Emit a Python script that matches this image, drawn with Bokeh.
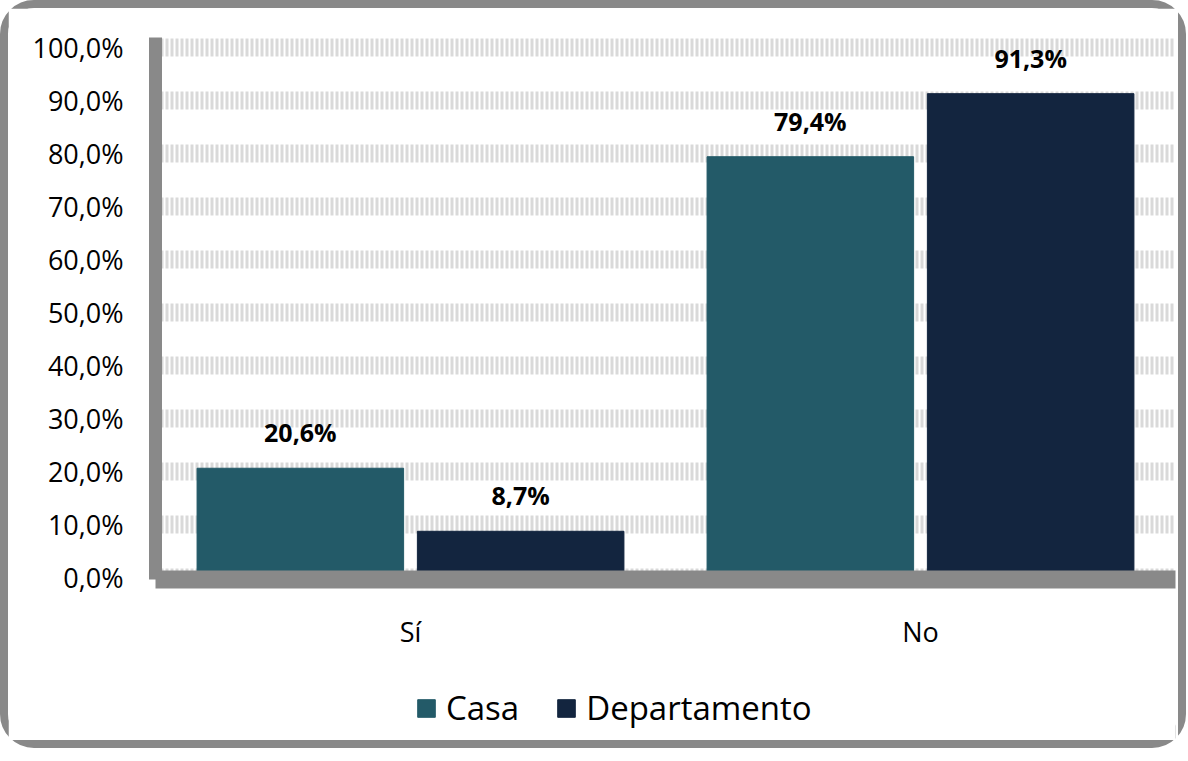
from bokeh.plotting import figure
from bokeh.layouts import column
from bokeh.models import ColumnDataSource, FactorRange, Range1d, Legend, LegendItem, FixedTicker, CustomJSTickFormatter
from bokeh.transform import dodge
from bokeh.core.properties import value
from bokeh.embed import file_html
from bokeh.resources import INLINE

categories = ["Sí", "No"]
casa = [20.6, 79.4]
departamento = [8.7, 91.3]
series_names = ["Casa", "Departamento"]
y_ticks = [0, 10, 20, 30, 40, 50, 60, 70, 80, 90, 100]

casa_labels = [f"{v:.1f}%".replace(".", ",") for v in casa]
depto_labels = [f"{v:.1f}%".replace(".", ",") for v in departamento]

src = ColumnDataSource(dict(cat=categories, casa=casa, depto=departamento,
                            casa_lbl=casa_labels, depto_lbl=depto_labels))

FONT = "Open Sans"
AXIS_COLOR = "#898989"
C_CASA = "#235A68"
C_DEPTO = "#13253F"

p = figure(x_range=FactorRange(*categories, range_padding=0), y_range=Range1d(-0.4, 101.9),
           width=1170, height=672, output_backend="svg", toolbar_location=None,
           min_border_left=147, min_border_right=3, min_border_top=29, min_border_bottom=101)
p.outline_line_color = None

r1 = p.vbar(x=dodge("cat", -0.216, range=p.x_range), top="casa", bottom=0, width=0.405,
            source=src, color=C_CASA)
r2 = p.vbar(x=dodge("cat", 0.216, range=p.x_range), top="depto", bottom=0, width=0.405,
            source=src, color=C_DEPTO)

p.text(x=dodge("cat", -0.216, range=p.x_range), y="casa", text="casa_lbl", source=src,
       text_align="center", text_baseline="alphabetic", y_offset=-36,
       text_font=value(FONT), text_font_style="bold", text_font_size="25px", text_color="black")
p.text(x=dodge("cat", 0.216, range=p.x_range), y="depto", text="depto_lbl", source=src,
       text_align="center", text_baseline="alphabetic", y_offset=-36,
       text_font=value(FONT), text_font_style="bold", text_font_size="25px", text_color="black")

p.yaxis.ticker = FixedTicker(ticks=y_ticks)
p.yaxis.formatter = CustomJSTickFormatter(code="return tick.toFixed(1).replace('.', ',') + '%';")
p.ygrid.ticker = FixedTicker(ticks=y_ticks)
p.xgrid.grid_line_color = None
p.ygrid.grid_line_color = "#d9d9d9"
p.ygrid.grid_line_width = 18
p.ygrid.grid_line_dash = "3 2"

for ax in (p.xaxis, p.yaxis):
    ax.axis_line_color = AXIS_COLOR
    ax.major_tick_line_color = None
    ax.minor_tick_line_color = None
    ax.major_label_text_font = FONT
    ax.major_label_text_color = "black"
p.yaxis.axis_line_width = 13
p.xaxis.axis_line_width = 18
p.yaxis.major_label_text_font_size = "27px"
p.xaxis.major_label_text_font_size = "27px"
p.yaxis.major_label_standoff = 26
p.xaxis.major_label_standoff = 27

# legend strip below the chart (bars drawn out of its visible range; only the legend shows)
pl = figure(width=1170, height=60, output_backend="svg", toolbar_location=None,
            x_axis_type=None, y_axis_type=None,
            x_range=FactorRange(*categories), y_range=Range1d(500, 501),
            min_border=0)
pl.outline_line_color = None
pl.grid.visible = False
l1 = pl.vbar(x="cat", top="casa", bottom=0, width=0.1, source=src, color=C_CASA)
l2 = pl.vbar(x="cat", top="depto", bottom=0, width=0.1, source=src, color=C_DEPTO)

legend = Legend(items=[LegendItem(label=series_names[0], renderers=[l1]),
                       LegendItem(label=series_names[1], renderers=[l2])],
                orientation="horizontal", location=(260, 10))
legend.label_text_font = FONT
legend.label_text_font_size = "33px"
legend.label_text_color = "black"
legend.glyph_width = 22
legend.glyph_height = 22
legend.spacing = 36
legend.label_standoff = 9
legend.border_line_color = None
legend.background_fill_alpha = 0
legend.padding = 4
legend.margin = 0
pl.add_layout(legend, "center")

layout = column(p, pl, spacing=0)
layout.styles = {"border": "8px solid #898989", "border-radius": "34px", "background": "white"}

open("out.html", "w").write(file_html(layout, INLINE))
